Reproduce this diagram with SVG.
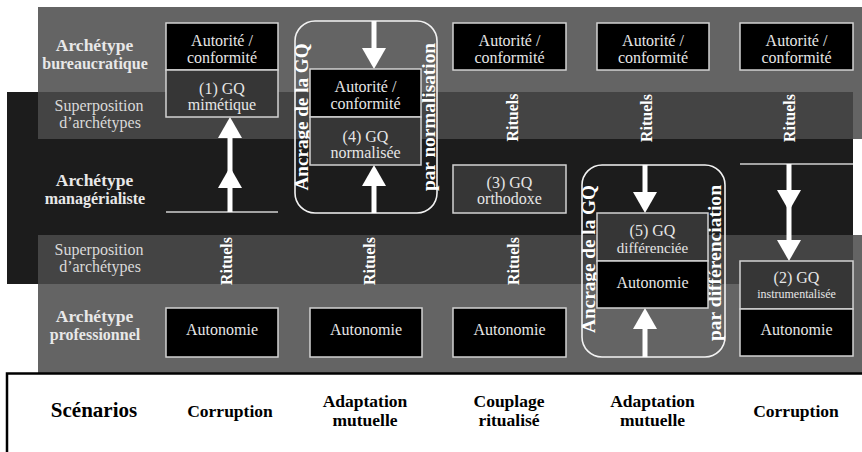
<svg xmlns="http://www.w3.org/2000/svg" xmlns:xlink="http://www.w3.org/1999/xlink" width="862" height="452" viewBox="0 0 862 452">
<style>
.grey{fill:#646464}
.dark{fill:#1c1c1c}
.mix{fill:#444444}
.bk{fill:#000;stroke:#d2d2d2;stroke-width:1.5}
.gq{fill:#363636;stroke:#d2d2d2;stroke-width:1.5}
.anchor{fill:none;stroke:#f2f2f2;stroke-width:1.6}
text{font-family:'Liberation Serif','DejaVu Serif',serif}
.nt{font-size:16px;fill:#e6e6e6;text-anchor:middle}
.nt.small{font-size:12px}
.nt.mid{font-size:15px}
.arch{font-weight:bold;fill:#e8e8e8;text-anchor:middle}
.a1{font-size:17.5px}
.a2{font-size:16px}
.sup{font-size:16px;fill:#dadada;text-anchor:middle}
.rit{font-weight:bold;font-size:16px;fill:#fff;text-anchor:middle}
.anc{font-weight:bold;font-size:19px;fill:#fff;text-anchor:middle}
.sc{font-weight:bold;font-size:17.5px;fill:#000;text-anchor:middle}
.sc.big{font-size:21px}
.shaft{stroke:#fff;stroke-width:5;fill:none}
.head{fill:#fff}
.baseline{stroke:#d0d0d0;stroke-width:1.5}
</style>
<defs>
<polygon id="up" points="0,0 -12,21 12,21"/>
<polygon id="down" points="0,0 -12,-21 12,-21"/>
</defs>

<g id="bands">
<rect class="grey" x="38" y="7" width="824" height="132"/>
<rect class="grey" x="38" y="235" width="824" height="138"/>
<rect class="dark" x="7" y="92" width="846" height="192"/>
<rect class="mix" x="38" y="92" width="815" height="47"/>
<rect class="mix" x="38" y="235" width="815" height="49"/>
<rect x="7" y="373.5" width="870" height="90" fill="#fff" stroke="#000" stroke-width="2.5"/>
</g>

<g id="row-labels">
<text class="arch a1" x="94.5" y="51">Archétype</text>
<text class="arch a2" x="95" y="69">bureaucratique</text>
<text class="sup" x="99" y="111">Superposition</text>
<text class="sup" x="100" y="128">d’archétypes</text>
<text class="arch a1" x="94.5" y="186">Archétype</text>
<text class="arch a2" x="95" y="203.5">managérialiste</text>
<text class="sup" x="99" y="255">Superposition</text>
<text class="sup" x="100" y="272">d’archétypes</text>
<text class="arch a1" x="94.5" y="322">Archétype</text>
<text class="arch a2" x="95" y="340">professionnel</text>
</g>

<g id="anchor-normalisation">
<rect class="anchor" x="295" y="21" width="142" height="192" rx="20"/>
<text class="anc" transform="translate(308,117) rotate(-90)" textLength="147" lengthAdjust="spacingAndGlyphs">Ancrage de la GQ</text>
<text class="anc" transform="translate(435,117) rotate(-90)" textLength="148" lengthAdjust="spacingAndGlyphs">par normalisation</text>
</g>
<g id="anchor-differenciation">
<rect class="anchor" x="582" y="165" width="143" height="192" rx="20"/>
<text class="anc" transform="translate(595,259) rotate(-90)" textLength="148" lengthAdjust="spacingAndGlyphs">Ancrage de la GQ</text>
<text class="anc" transform="translate(721,263) rotate(-90)" textLength="156" lengthAdjust="spacingAndGlyphs">par différenciation</text>
</g>

<g id="connectors">
<line class="baseline" x1="166" y1="212" x2="278" y2="212"/>
<line class="shaft" x1="230" y1="212" x2="230" y2="130"/>
<use href="#up" class="head" x="230" y="117"/>
<use href="#up" class="head" x="230" y="167"/>
<line class="shaft" x1="374" y1="21" x2="374" y2="55"/>
<use href="#down" class="head" x="374" y="69"/>
<line class="shaft" x1="374" y1="213" x2="374" y2="178"/>
<use href="#up" class="head" x="374" y="165"/>
<line class="shaft" x1="645" y1="165" x2="645" y2="200"/>
<use href="#down" class="head" x="645" y="213"/>
<line class="shaft" x1="645" y1="357" x2="645" y2="320"/>
<use href="#up" class="head" x="645" y="308"/>
<line class="baseline" x1="740" y1="164" x2="853" y2="164"/>
<line class="shaft" x1="789" y1="164" x2="789" y2="248"/>
<use href="#down" class="head" x="789" y="211"/>
<use href="#down" class="head" x="789" y="261"/>
</g>

<g id="rituels">
<text class="rit" transform="translate(518,117.5) rotate(-90)">Rituels</text>
<text class="rit" transform="translate(652,118) rotate(-90)">Rituels</text>
<text class="rit" transform="translate(795,118) rotate(-90)">Rituels</text>
<text class="rit" transform="translate(232,261) rotate(-90)">Rituels</text>
<text class="rit" transform="translate(375,261) rotate(-90)">Rituels</text>
<text class="rit" transform="translate(519,261) rotate(-90)">Rituels</text>
</g>

<g id="n1-autorite">
<rect class="bk" x="166" y="23" width="112" height="47"/>
<text class="nt" x="222" y="45.5">Autorité /</text>
<text class="nt" x="222" y="62.5">conformité</text>
</g>
<g id="n1-gq-mimetique">
<rect class="gq" x="166" y="70" width="112" height="47"/>
<text class="nt" x="222" y="93.5">(1) GQ</text>
<text class="nt" x="222" y="109.5">mimétique</text>
</g>
<g id="n1-autonomie">
<rect class="bk" x="166" y="308" width="112" height="49"/>
<text class="nt" x="222" y="335">Autonomie</text>
</g>

<g id="n2-autorite">
<rect class="bk" x="310" y="69" width="111" height="48"/>
<text class="nt" x="365.5" y="91.5">Autorité /</text>
<text class="nt" x="365.5" y="108.5">conformité</text>
</g>
<g id="n2-gq-normalisee">
<rect class="gq" x="310" y="117" width="111" height="48"/>
<text class="nt" x="365.5" y="141.5">(4) GQ</text>
<text class="nt" x="365.5" y="157.5">normalisée</text>
</g>
<g id="n2-autonomie">
<rect class="bk" x="310" y="308" width="112" height="49"/>
<text class="nt" x="366" y="335">Autonomie</text>
</g>

<g id="n3-autorite">
<rect class="bk" x="453" y="23" width="113" height="47"/>
<text class="nt" x="509.5" y="45.5">Autorité /</text>
<text class="nt" x="509.5" y="62.5">conformité</text>
</g>
<g id="n3-gq-orthodoxe">
<rect class="gq" x="453" y="165" width="113" height="48"/>
<text class="nt" x="509.5" y="187.5">(3) GQ</text>
<text class="nt" x="509.5" y="204">orthodoxe</text>
</g>
<g id="n3-autonomie">
<rect class="bk" x="453" y="308" width="113" height="49"/>
<text class="nt" x="509.5" y="335">Autonomie</text>
</g>

<g id="n4-autorite">
<rect class="bk" x="597" y="23" width="112" height="47"/>
<text class="nt" x="653" y="45.5">Autorité /</text>
<text class="nt" x="653" y="62.5">conformité</text>
</g>
<g id="n4-gq-differenciee">
<rect class="gq" x="597" y="213" width="111" height="48"/>
<text class="nt" x="652.5" y="235.5">(5) GQ</text>
<text class="nt mid" x="652.5" y="253">différenciée</text>
</g>
<g id="n4-autonomie">
<rect class="bk" x="597" y="261" width="111" height="47"/>
<text class="nt" x="652.5" y="288">Autonomie</text>
</g>

<g id="n5-autorite">
<rect class="bk" x="740" y="23" width="113" height="47"/>
<text class="nt" x="796.5" y="45.5">Autorité /</text>
<text class="nt" x="796.5" y="62.5">conformité</text>
</g>
<g id="n5-gq-instrumentalisee">
<rect class="gq" x="740" y="261" width="113" height="48"/>
<text class="nt" x="796.5" y="282.5">(2) GQ</text>
<text class="nt small" x="796.5" y="297.5">instrumentalisée</text>
</g>
<g id="n5-autonomie">
<rect class="bk" x="740" y="309" width="113" height="47"/>
<text class="nt" x="796.5" y="335">Autonomie</text>
</g>

<g id="scenarios">
<text class="sc big" x="94" y="417">Scénarios</text>
<text class="sc" x="230" y="417">Corruption</text>
<text class="sc" x="365" y="406.5">Adaptation</text>
<text class="sc" x="365" y="426">mutuelle</text>
<text class="sc" x="509" y="406.5">Couplage</text>
<text class="sc" x="509" y="426">ritualisé</text>
<text class="sc" x="652.5" y="406.5">Adaptation</text>
<text class="sc" x="652.5" y="426">mutuelle</text>
<text class="sc" x="796" y="417">Corruption</text>
</g>
</svg>
